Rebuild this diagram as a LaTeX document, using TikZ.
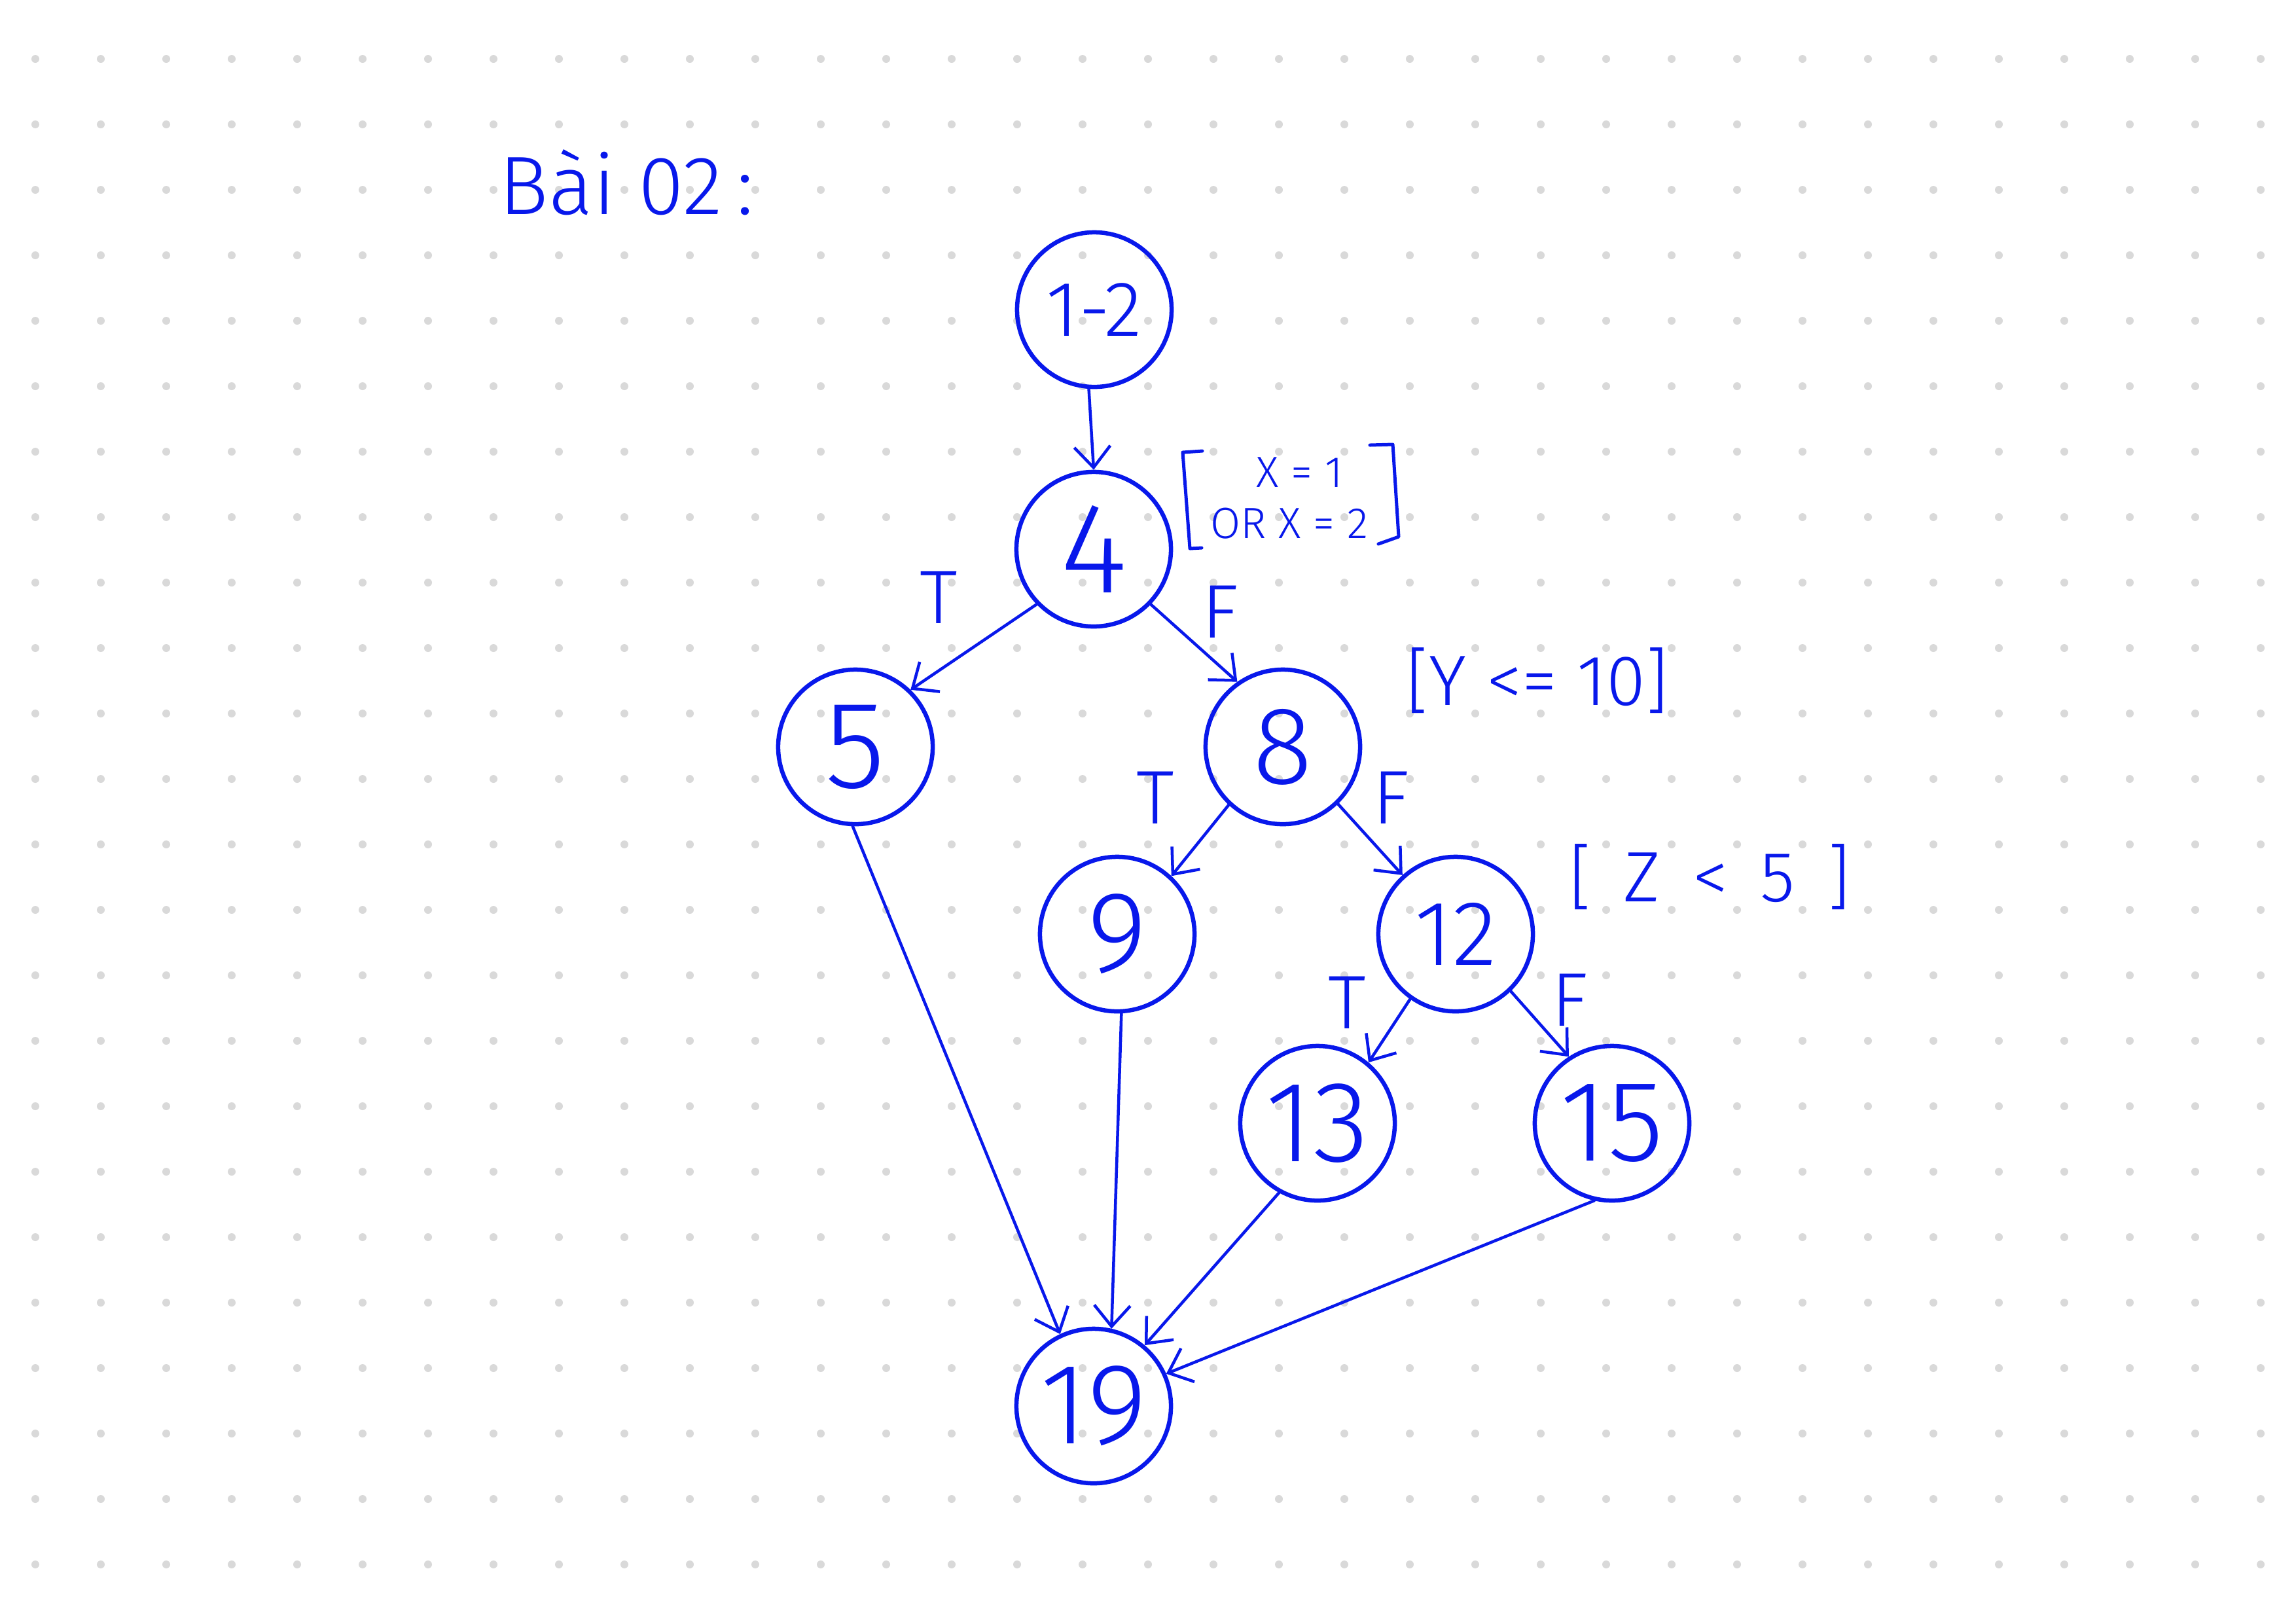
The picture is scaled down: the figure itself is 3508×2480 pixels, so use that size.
\documentclass[tikz,border=0pt]{standalone}
\usepackage{fontspec}
\setmainfont{Fira Sans Light}
\usetikzlibrary{arrows.meta}
\definecolor{ink}{RGB}{8,24,235}
\definecolor{dotgrey}{RGB}{217,217,217}

\begin{document}
\begin{tikzpicture}[x=0.01cm,y=-0.01cm,
  state/.style={circle,draw=ink,line width=0.065cm,minimum size=2.36cm,inner sep=0pt,
    text=ink,font=\fontsize{50}{50}\selectfont},
  flow/.style={draw=ink,line width=0.045cm,line cap=round,
    -{Straight Barb[length=0.32cm,width=0.55cm,line width=0.045cm]}},
  branch/.style={text=ink,font=\fontsize{33}{33}\selectfont,inner sep=0pt},
  cond/.style={text=ink,font=\fontsize{31}{31}\selectfont,inner sep=0pt},
  condsmall/.style={text=ink,font=\fontsize{19}{19}\selectfont,inner sep=0pt},
  bracket/.style={draw=ink,line width=0.05cm,line cap=round,line join=round}]

% page and dotted paper
\fill[white] (0,0) rectangle (3508,2480);
\useasboundingbox (0,0) rectangle (3508,2480);
\foreach \i in {0,...,34}
  \foreach \j in {0,...,23}
    \fill[dotgrey] (54+\i*100,90+\j*100) circle (0.06cm);

% heading
\node[anchor=base west,text=ink,font=\fontsize{36}{36}\selectfont,inner sep=0pt]
  (title) at (762,327) {Bài 02\,:};

% control-flow nodes
\node[state,font=\fontsize{34}{34}\selectfont] (s1) at (1672,473) {1-2};
\node[state,font=\fontsize{56}{56}\selectfont] (s4) at (1671,839) {4};
\node[state,font=\fontsize{54}{54}\selectfont] (s5) at (1307,1141) {5};
\node[state,font=\fontsize{48}{48}\selectfont] (s8) at (1960,1141) {8};
\node[state] (s9) at (1707,1427) {9};
\node[state,font=\fontsize{40}{40}\selectfont] (s12) at (2224,1427) {12};
\node[state] (s13) at (2013,1716) {13};
\node[state] (s15) at (2463,1716) {15};
\node[state] (s19) at (1671,2148) {19};

% edges
\draw[flow] (s1.-94) -- (s4.north);
\draw[flow] (s4.-136) -- (s5.46);
\draw[flow] (s4.-44) -- (s8.125);
\draw[flow] (s8.-133) -- (s9.47);
\draw[flow] (s8.-46) -- (s12.132);
\draw[flow] (s12.-125) -- (s13.50);
\draw[flow] (s12.-46) -- (s15.123);
\draw[flow] (s5.-92) -- (s19.115);
\draw[flow] (s9.-87) -- (s19.77);
\draw[flow] (s13.-119) -- (s19.50);
\draw[flow] (s15.-103) -- (s19.24);

% branch labels
\node[branch] (t4) at (1434,913) {T};
\node[branch] (f4) at (1864,935) {F};
\node[branch] (t8) at (1765,1219) {T};
\node[branch] (f8) at (2125,1219) {F};
\node[branch] (t12) at (2058,1532) {T};
\node[branch] (f12) at (2398,1528) {F};

% decision conditions
\node[condsmall] (c4a) at (1986,722) {X = 1};
\node[condsmall] (c4b) at (1970,800) {OR X = 2};
\draw[bracket] (1837,689) -- (1807,691) -- (1818,838) -- (1836,837);
\draw[bracket] (2093,680) -- (2128,679) -- (2137,820) -- (2106,831);
\node[cond] (c8) at (2349,1040) {[Y <= 10]};
\node[cond] (c12) at (2612,1340)
  {[\hspace{14pt}Z\hspace{14pt}<\hspace{14pt}5\hspace{14pt}]};

\end{tikzpicture}
\end{document}
